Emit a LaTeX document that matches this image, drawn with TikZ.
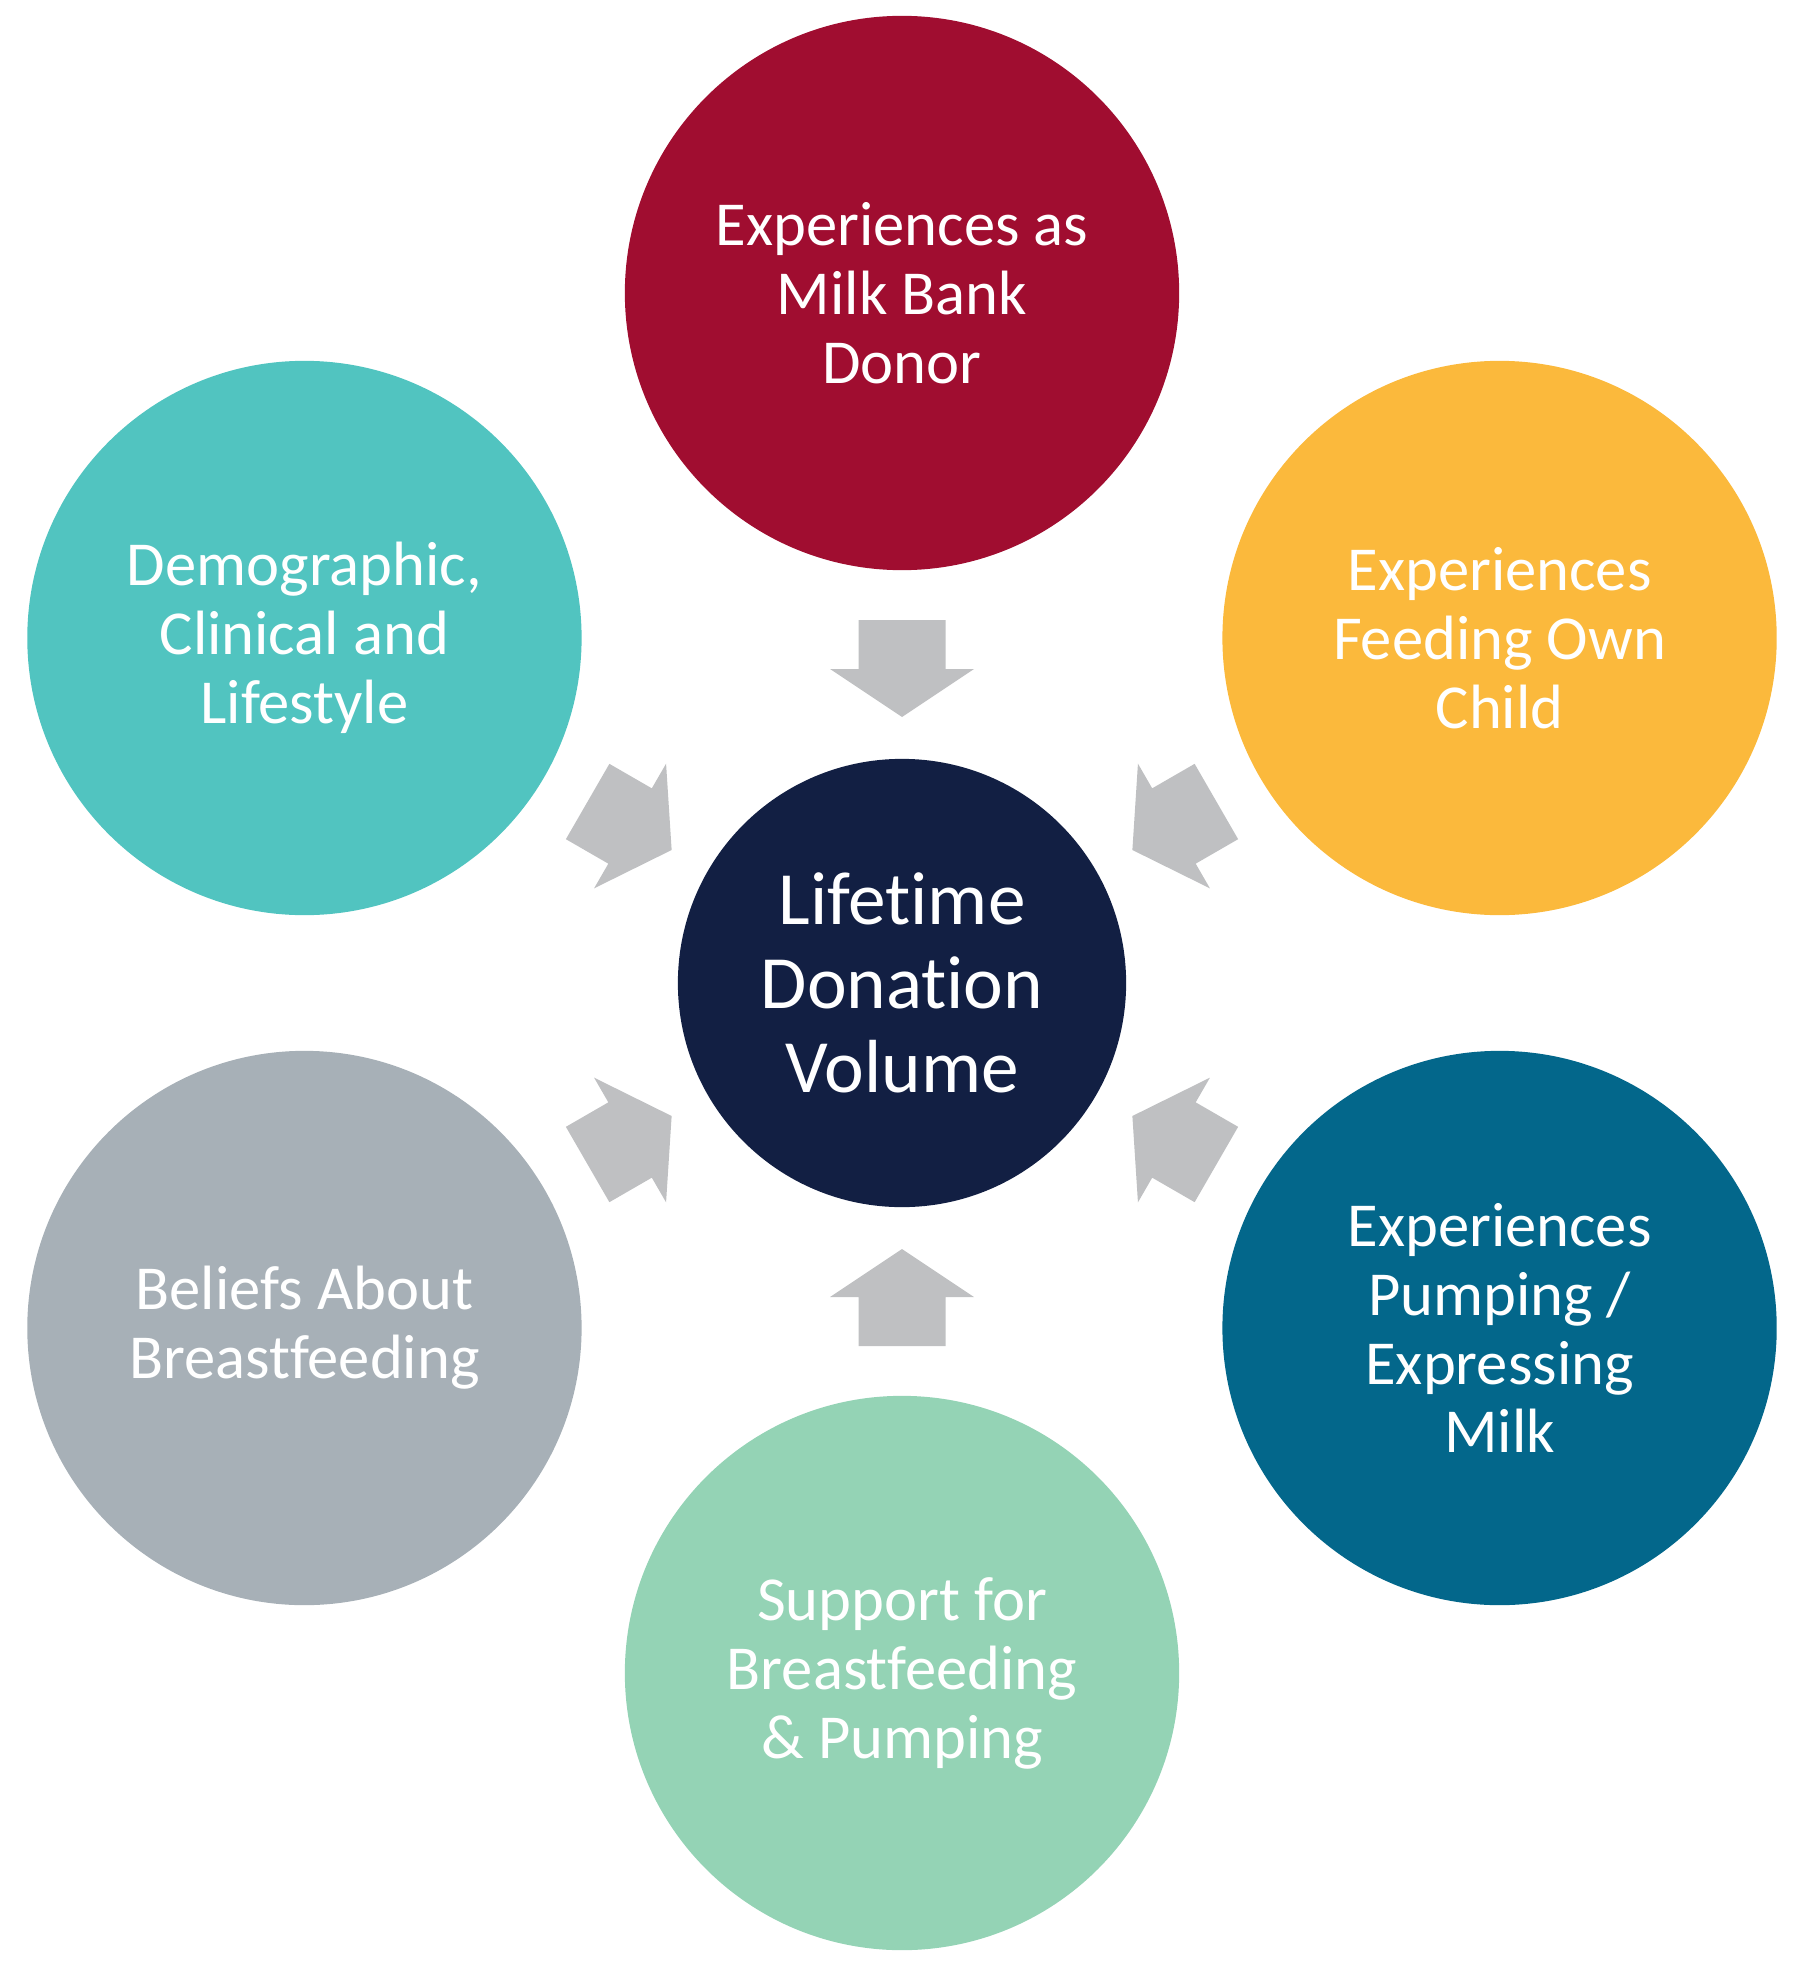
\documentclass[tikz,border=0pt]{standalone}
\usepackage{fontspec}
\setmainfont{Carlito}[Ligatures={NoCommon}]
\usetikzlibrary{calc}
\definecolor{cRed}{HTML}{A00D30}
\definecolor{cYellow}{HTML}{FBB93C}
\definecolor{cTeal}{HTML}{51C4C0}
\definecolor{cGray}{HTML}{A7B0B7}
\definecolor{cBlue}{HTML}{03678B}
\definecolor{cMint}{HTML}{94D3B5}
\definecolor{cNavy}{HTML}{121F43}
\definecolor{cArrow}{HTML}{BFC0C2}
\tikzset{
  outer/.style={circle, minimum size=5.54cm, inner sep=0pt, align=center, text=white,
    font=\fontsize{17.8pt}{19.6pt}\selectfont},
  inner/.style={circle, minimum size=4.48cm, inner sep=0pt, align=center, text=white, fill=cNavy,
    font=\fontsize{21.4pt}{23.9pt}\selectfont},
  blockarrow/.style={fill=cArrow}
}
\begin{document}
\begin{tikzpicture}[x=0.01cm,y=0.01cm]
\useasboundingbox (0,0) rectangle (1800,-1961);
\node[inner] (ctr) at (902,-983) {Lifetime\\Donation\\Volume};
\node[outer, fill=cRed]    (top) at ($(ctr)+(90:690)$)  {Experiences as\\Milk Bank\\Donor};
\node[outer, fill=cYellow] (tr)  at ($(ctr)+(30:690)$)  {Experiences\\Feeding Own\\Child};
\node[outer, fill=cBlue]   (br)  at ($(ctr)+(-30:690)$) {Experiences\\Pumping /\\Expressing\\Milk};
\node[outer, fill=cMint]   (bot) at ($(ctr)+(-90:690)$) {Support for\\Breastfeeding\\\& Pumping};
\node[outer, fill=cGray]   (bl)  at ($(ctr)+(210:690)$) {Beliefs About\\Breastfeeding};
\node[outer, fill=cTeal]   (tl)  at ($(ctr)+(150:690)$) {Demographic,\\Clinical and\\Lifestyle};
\foreach \a in {90,30,-30,-90,210,150}{
  \begin{scope}[shift={(ctr)}, rotate=\a]
    \fill[blockarrow] (363,43.5) -- (314,43.5) -- (314,72) -- (266,0) -- (314,-72)
      -- (314,-43.5) -- (363,-43.5) -- cycle;
  \end{scope}
}
\end{tikzpicture}
\end{document}
